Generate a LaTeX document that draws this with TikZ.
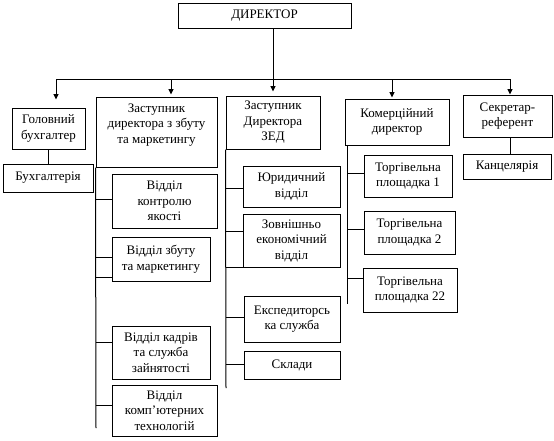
\documentclass[tikz,border=0pt]{standalone}
\usepackage{fontspec}
\setmainfont{Liberation Serif}
\usetikzlibrary{arrows.meta}

\begin{document}
\begin{tikzpicture}[x=1pt, y=-1pt,
  bx/.style={draw, line width=1pt, inner sep=0pt, align=center,
    font=\fontsize{13}{15.5}\selectfont},
  ln/.style={line width=1pt},
  arr/.style={-{Triangle[length=5.5pt, width=5pt]}, line width=1pt}]
\useasboundingbox (0,0) rectangle (554,440);
% top level
\node[bx, minimum width=173pt, minimum height=25pt] (dir) at (264.5,15.5) {ДИРЕКТОР};
% deputies
\node[bx, minimum width=73pt, minimum height=41pt] (gb) at (48.5,128.5) {Головний\\бухгалтер};
\node[bx, minimum width=121pt, minimum height=70pt, text depth=17pt] (zz) at (156.5,132) {Заступник\\директора з збуту\\та маркетингу};
\node[bx, minimum width=94pt, minimum height=53pt] (zed) at (273,122.5) {Заступник\\Директора\\ЗЕД};
\node[bx, minimum width=104pt, minimum height=46pt] (kd) at (397,122) {Комерційний\\директор};
\node[bx, minimum width=89pt, minimum height=42pt] (sr) at (507.5,116) {Секретар-\\референт};
% departments
\node[bx, minimum width=90pt, minimum height=28pt] (buh) at (48,178) {Бухгалтерія};
\node[bx, minimum width=105pt, minimum height=54pt] (vk) at (164.5,201) {Відділ\\контролю\\якості};
\node[bx, minimum width=98pt, minimum height=44pt] (vz) at (161,259) {Відділ збуту\\та маркетингу};
\node[bx, minimum width=98pt, minimum height=53pt] (vkad) at (161,352.5) {Відділ кадрів\\та служба\\зайнятості};
\node[bx, minimum width=105pt, minimum height=51pt] (vkt) at (164.5,410.5) {Відділ\\комп'ютерних\\технологій};
\node[bx, minimum width=97pt, minimum height=41pt] (ur) at (291.5,186.5) {Юридичний\\відділ};
\node[bx, minimum width=97pt, minimum height=53pt] (ze) at (291.5,240.5) {Зовнішньо\\економічний\\відділ};
\node[bx, minimum width=96pt, minimum height=46pt] (eks) at (292,319) {Експедиторсь\\ка служба};
\node[bx, minimum width=96pt, minimum height=28pt] (skl) at (292,365) {Склади};
\node[bx, minimum width=88pt, minimum height=42pt] (tp1) at (408,176) {Торгівельна\\площадка 1};
\node[bx, minimum width=91pt, minimum height=43pt] (tp2) at (409.5,232.5) {Торгівельна\\площадка 2};
\node[bx, minimum width=94pt, minimum height=44pt] (tp22) at (410,290) {Торгівельна\\площадка 22};
\node[bx, minimum width=88pt, minimum height=25pt] (kanc) at (507,166.5) {Канцелярія};
% bus from the director
\coordinate (b1) at (56,79);
\coordinate (b2) at (171,79);
\coordinate (b4) at (392,79);
\coordinate (b5) at (510,79);
\draw[ln] (b1) -- (b5);
\draw[arr, shorten >=4pt] (dir.south -| zed.north) -- (zed.north);
\draw[arr, shorten >=8pt] (b1) -- (b1 |- gb.north);
\draw[arr, shorten >=2pt] (b2) -- (b2 |- zz.north);
\draw[arr, shorten >=1pt] (b4) -- (b4 |- kd.north);
\draw[arr] (b5) -- (b5 |- sr.north);
% single children
\draw[ln] (gb.south) -- (gb.south |- buh.north);
\draw[ln] (b5 |- sr.south) -- (b5 |- kanc.north);
% trunks with branches
\coordinate (zzend) at (96,428);
\draw[ln] (zz.south west) -- (zzend);
\foreach \n/\s in {vk/2, vz/2, vz/-18, vkad/10, vkt/5}
  \draw[ln] ([yshift=\s pt]\n.west -| zzend) -- ([yshift=\s pt]\n.west);
\coordinate (zedend) at (226,388);
\draw[ln] (zed.south west) -- (zedend);
\foreach \n/\s in {ur/-1.5, ze/9.5, ze/-26.5, eks/2, skl/1}
  \draw[ln] ([yshift=\s pt]\n.west -| zedend) -- ([yshift=\s pt]\n.west);
\coordinate (kdend) at (347,304);
\draw[ln] (kd.south -| kdend) -- (kdend);
\foreach \n/\s in {tp1/3, tp2/3.5, tp22/12}
  \draw[ln] ([yshift=\s pt]\n.west -| kdend) -- ([yshift=\s pt]\n.west);
\end{tikzpicture}
\end{document}
